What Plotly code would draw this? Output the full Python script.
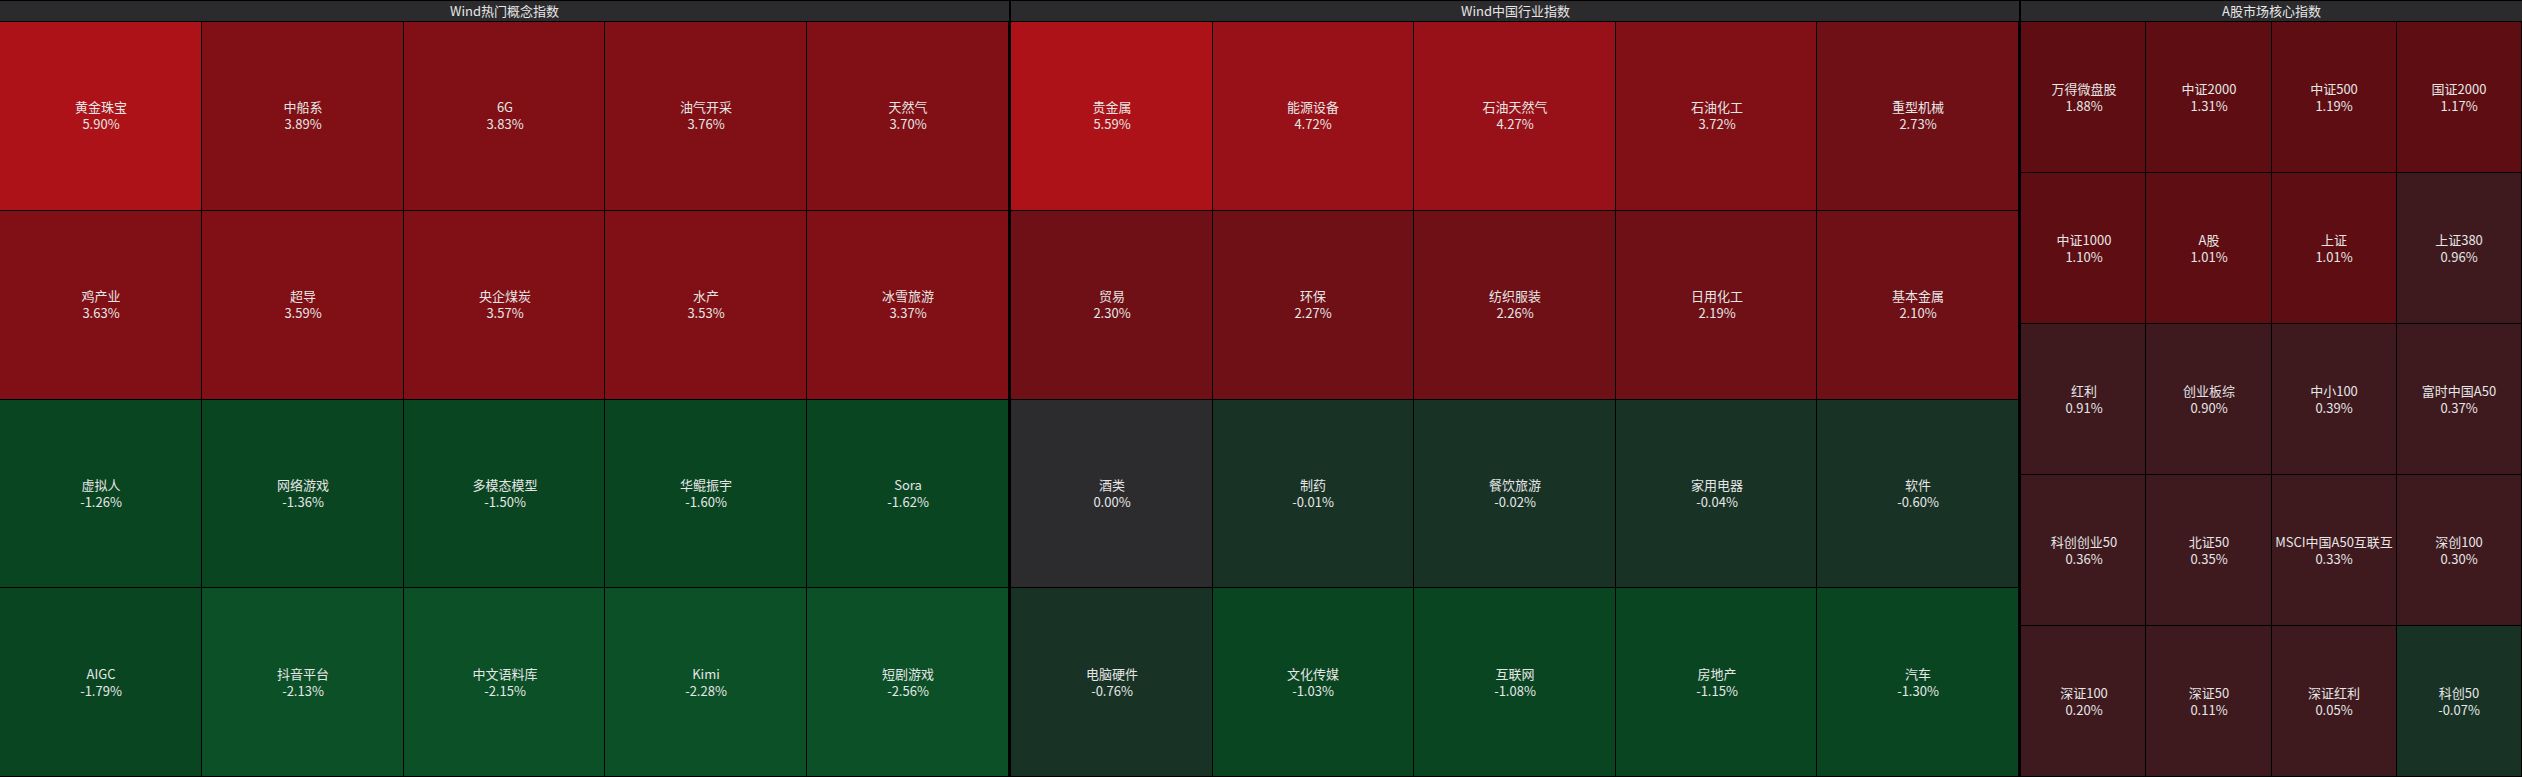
import plotly.graph_objects as go

# ---------------- data ----------------
titles = ["Wind热门概念指数", "Wind中国行业指数", "A股市场核心指数"]

concept_names = [
    ["黄金珠宝", "中船系", "6G", "油气开采", "天然气"],
    ["鸡产业", "超导", "央企煤炭", "水产", "冰雪旅游"],
    ["虚拟人", "网络游戏", "多模态模型", "华鲲振宇", "Sora"],
    ["AIGC", "抖音平台", "中文语料库", "Kimi", "短剧游戏"],
]
concept_values = [
    [5.90, 3.89, 3.83, 3.76, 3.70],
    [3.63, 3.59, 3.57, 3.53, 3.37],
    [-1.26, -1.36, -1.50, -1.60, -1.62],
    [-1.79, -2.13, -2.15, -2.28, -2.56],
]

industry_names = [
    ["贵金属", "能源设备", "石油天然气", "石油化工", "重型机械"],
    ["贸易", "环保", "纺织服装", "日用化工", "基本金属"],
    ["酒类", "制药", "餐饮旅游", "家用电器", "软件"],
    ["电脑硬件", "文化传媒", "互联网", "房地产", "汽车"],
]
industry_values = [
    [5.59, 4.72, 4.27, 3.72, 2.73],
    [2.30, 2.27, 2.26, 2.19, 2.10],
    [0.00, -0.01, -0.02, -0.04, -0.60],
    [-0.76, -1.03, -1.08, -1.15, -1.30],
]

index_names = [
    ["万得微盘股", "中证2000", "中证500", "国证2000"],
    ["中证1000", "A股", "上证", "上证380"],
    ["红利", "创业板综", "中小100", "富时中国A50"],
    ["科创创业50", "北证50", "MSCI中国A50互联互", "深创100"],
    ["深证100", "深证50", "深证红利", "科创50"],
]
index_values = [
    [1.88, 1.31, 1.19, 1.17],
    [1.10, 1.01, 1.01, 0.96],
    [0.91, 0.90, 0.39, 0.37],
    [0.36, 0.35, 0.33, 0.30],
    [0.20, 0.11, 0.05, -0.07],
]

# colour bins (low -> high)
bin_colors = [
    "#0b5027",  # <= -2
    "#0a4522",  # (-2, -1]
    "#183326",  # (-1, 0)
    "#2c2c2f",  # 0
    "#3e1a1f",  # (0, 1)
    "#5e0e13",  # [1, 2)
    "#6e1016",  # [2, 3)
    "#801015",  # [3, 4)
    "#981018",  # [4, 5)
    "#ac1217",  # >= 5
]


def bin_of(v):
    if v <= -2:
        return 0
    if v <= -1:
        return 1
    if v < 0:
        return 2
    if v == 0:
        return 3
    if v < 1:
        return 4
    if v < 2:
        return 5
    if v < 3:
        return 6
    if v < 4:
        return 7
    if v < 5:
        return 8
    return 9


nb = len(bin_colors) - 1
colorscale = [[i / nb, c] for i, c in enumerate(bin_colors)]

W, H = 2522, 777
HEADER = 21
top = (H - HEADER - 1) / H
domains = [
    [0, 1009 / W],
    [1011 / W, 2019 / W],
    [2021 / W, 1],
]

fig = go.Figure()
sections = [
    (concept_names, concept_values),
    (industry_names, industry_values),
    (index_names, index_values),
]

for k, (names, values) in enumerate(sections):
    nrows, ncols = len(values), len(values[0])
    z = [[bin_of(v) for v in row] for row in values]
    text = [[f"{n}<br>{v:.2f}%" for n, v in zip(nr, vr)] for nr, vr in zip(names, values)]
    ax = "" if k == 0 else str(k + 1)
    fig.add_trace(go.Heatmap(
        z=z,
        x=list(range(ncols)),
        y=list(range(nrows)),
        text=text,
        texttemplate="%{text}",
        textfont=dict(family="Noto Sans CJK SC", size=13, color="#e6e6e6"),
        colorscale=colorscale,
        zmin=0, zmax=nb,
        showscale=False,
        xgap=1, ygap=1,
        hoverinfo="text",
        xaxis="x" + ax, yaxis="y" + ax,
    ))
    axis_common = dict(showgrid=False, zeroline=False, showticklabels=False,
                       ticks="", showline=False, fixedrange=True)
    fig.layout["xaxis" + ax] = dict(domain=domains[k], range=[-0.5, ncols - 0.5],
                                    anchor="y" + ax, **axis_common)
    fig.layout["yaxis" + ax] = dict(domain=[0, top], range=[nrows - 0.5, -0.5],
                                    anchor="x" + ax, **axis_common)
    # header band
    fig.add_shape(type="rect", xref="paper", yref="paper",
                  x0=domains[k][0], x1=domains[k][1],
                  y0=(H - HEADER) / H, y1=(H - 1) / H,
                  fillcolor="#2b2b2d", line=dict(width=0), layer="below")
    fig.add_annotation(text=titles[k], xref="paper", yref="paper",
                       x=(domains[k][0] + domains[k][1]) / 2,
                       y=(H - HEADER / 2) / H, xanchor="center", yanchor="middle",
                       showarrow=False,
                       font=dict(family="Noto Sans CJK SC", size=13, color="#e6e6e6"))

fig.update_layout(
    width=W, height=H,
    margin=dict(l=0, r=0, t=0, b=0),
    paper_bgcolor="#000000",
    plot_bgcolor="#000000",
    showlegend=False,
)

fig.write_html("out.html",
               config={"displayModeBar": False},
               post_script="document.body.style.margin='0';document.body.style.overflow='hidden';")
